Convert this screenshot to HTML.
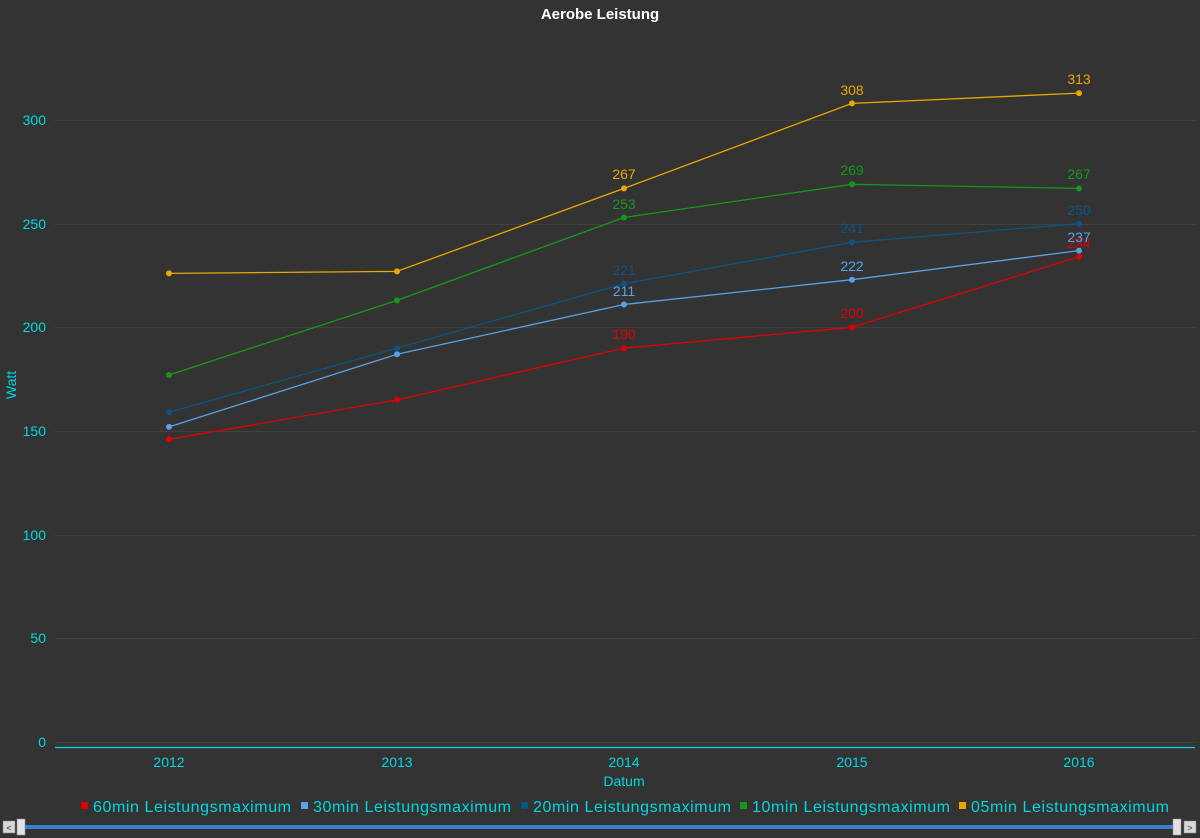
<!DOCTYPE html>
<html><head><meta charset="utf-8"><style>
html,body{margin:0;padding:0;background:#333;}
svg{display:block;font-family:"Liberation Sans","DejaVu Sans",sans-serif;}
</style></head><body>
<svg width="1200" height="838" viewBox="0 0 1200 838">
<rect width="1200" height="838" fill="#333333"/>
<text x="600" y="19" text-anchor="middle" fill="#ffffff" font-size="15" font-weight="bold">Aerobe Leistung</text>
<g stroke="#414141" stroke-width="1">
<line x1="55" y1="120.5" x2="1195" y2="120.5"/>
<line x1="55" y1="224.5" x2="1195" y2="224.5"/>
<line x1="55" y1="327.5" x2="1195" y2="327.5"/>
<line x1="55" y1="431.5" x2="1195" y2="431.5"/>
<line x1="55" y1="535.5" x2="1195" y2="535.5"/>
<line x1="55" y1="638.5" x2="1195" y2="638.5"/>
<line x1="55" y1="742.5" x2="1195" y2="742.5"/>
</g>
<line x1="55" y1="747.5" x2="1195" y2="747.5" stroke="#00d8e0" stroke-width="1.2"/>
<g fill="#00d8e0" font-size="14" text-anchor="end">
<text x="46" y="125">300</text><text x="46" y="229">250</text><text x="46" y="332">200</text>
<text x="46" y="436">150</text><text x="46" y="540">100</text><text x="46" y="643">50</text><text x="46" y="747">0</text>
</g>
<g fill="#00d8e0" font-size="14" text-anchor="middle">
<text x="169" y="767">2012</text><text x="397" y="767">2013</text><text x="624" y="767">2014</text>
<text x="852" y="767">2015</text><text x="1079" y="767">2016</text>
<text x="624" y="786">Datum</text>
<text transform="translate(16,385) rotate(-90)">Watt</text>
</g>
<g fill="none" stroke-width="1.3">
<polyline stroke="#e00000" points="169,439.3 397,399.9 624,348.1 852,327.3 1079,256.8"/>
<polyline stroke="#5aa0e8" points="169,426.9 397,354.3 624,304.5 852,279.7 1079,250.6"/>
<polyline stroke="#0b5584" points="169,412.3 397,348.1 624,283.8 852,242.3 1079,223.7"/>
<polyline stroke="#14981a" points="169,375 397,300.4 624,217.5 852,184.3 1079,188.4"/>
<polyline stroke="#e8a800" points="169,273.4 397,271.4 624,188.4 852,103.4 1079,93.1"/>
</g>
<g fill="#e00000"><circle cx="169" cy="439.3" r="3"/><circle cx="397" cy="399.9" r="3"/><circle cx="624" cy="348.1" r="3"/><circle cx="852" cy="327.3" r="3"/><circle cx="1079" cy="256.8" r="3"/></g>
<g fill="#5aa0e8"><circle cx="169" cy="426.9" r="3"/><circle cx="397" cy="354.3" r="3"/><circle cx="624" cy="304.5" r="3"/><circle cx="852" cy="279.7" r="3"/><circle cx="1079" cy="250.6" r="3"/></g>
<g fill="#0b5584"><circle cx="169" cy="412.3" r="3"/><circle cx="397" cy="348.1" r="3"/><circle cx="624" cy="283.8" r="3"/><circle cx="852" cy="242.3" r="3"/><circle cx="1079" cy="223.7" r="3"/></g>
<g fill="#14981a"><circle cx="169" cy="375" r="3"/><circle cx="397" cy="300.4" r="3"/><circle cx="624" cy="217.5" r="3"/><circle cx="852" cy="184.3" r="3"/><circle cx="1079" cy="188.4" r="3"/></g>
<g fill="#e8a800"><circle cx="169" cy="273.4" r="3"/><circle cx="397" cy="271.4" r="3"/><circle cx="624" cy="188.4" r="3"/><circle cx="852" cy="103.4" r="3"/><circle cx="1079" cy="93.1" r="3"/></g>
<g font-size="14" text-anchor="middle">
<text x="624" y="339" fill="#e00000">190</text><text x="852" y="318" fill="#e00000">200</text><text x="1079" y="248" fill="#e00000">234</text>
<text x="624" y="296" fill="#5aa0e8">211</text><text x="852" y="271" fill="#5aa0e8">222</text><text x="1079" y="242" fill="#5aa0e8">237</text>
<text x="624" y="275" fill="#0b5584">221</text><text x="852" y="233" fill="#0b5584">241</text><text x="1079" y="215" fill="#0b5584">250</text>
<text x="624" y="209" fill="#14981a">253</text><text x="852" y="175" fill="#14981a">269</text><text x="1079" y="179" fill="#14981a">267</text>
<text x="624" y="179" fill="#e8a800">267</text><text x="852" y="95" fill="#e8a800">308</text><text x="1079" y="84" fill="#e8a800">313</text>
</g>
<g font-size="16" fill="#00d8e0">
<rect x="81" y="802" width="7" height="7" fill="#e00000"/><text x="93" y="812" textLength="198">60min Leistungsmaximum</text>
<rect x="301" y="802" width="7" height="7" fill="#5aa0e8"/><text x="313" y="812" textLength="198">30min Leistungsmaximum</text>
<rect x="521" y="802" width="7" height="7" fill="#0b5584"/><text x="533" y="812" textLength="198">20min Leistungsmaximum</text>
<rect x="740" y="802" width="7" height="7" fill="#14981a"/><text x="752" y="812" textLength="198">10min Leistungsmaximum</text>
<rect x="959" y="802" width="7" height="7" fill="#e8a800"/><text x="971" y="812" textLength="198">05min Leistungsmaximum</text>
</g>
<rect x="25" y="825" width="1150" height="4" fill="#3b7fd4"/>
<rect x="3" y="821" width="12" height="12" fill="#d8d8d8" stroke="#888" stroke-width="0.5"/>
<text x="9" y="831" font-size="9" text-anchor="middle" fill="#333">&lt;</text>
<rect x="17" y="819" width="8" height="16" fill="#e0e0e0" stroke="#999" stroke-width="0.5"/>
<rect x="1173" y="819" width="8" height="16" fill="#e0e0e0" stroke="#999" stroke-width="0.5"/>
<rect x="1184" y="821" width="12" height="12" fill="#d8d8d8" stroke="#888" stroke-width="0.5"/>
<text x="1190" y="831" font-size="9" text-anchor="middle" fill="#333">&gt;</text>
</svg>
</body></html>
